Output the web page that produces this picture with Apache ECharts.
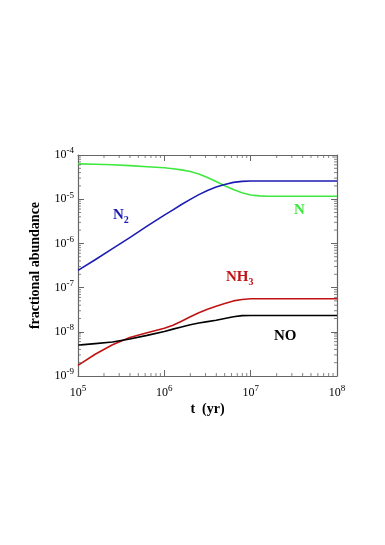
<!DOCTYPE html>
<html>
<head>
<meta charset="utf-8">
<script src="https://cdn.jsdelivr.net/npm/echarts@6/dist/echarts.min.js"></script>
<style>
  html, body { margin: 0; padding: 0; background: #fff; }
  #chart { width: 385px; height: 545px; }
</style>
</head>
<body>
<div id="chart"></div>
<script>
// time in years (log-spaced samples)
var time = [1e5, 1.58e5, 2.51e5, 3.98e5, 6.31e5, 1e6, 1.26e6, 1.58e6, 2.0e6, 2.51e6,
            3.16e6, 3.98e6, 5.01e6, 6.31e6, 7.94e6, 1e7, 1.26e7, 1.58e7, 3.16e7, 1e8];
// fractional abundances
var n2  = [2.45e-7, 4.27e-7, 7.6e-7, 1.35e-6, 2.45e-6, 4.37e-6, 5.75e-6, 7.59e-6, 9.89e-6, 1.27e-5,
           1.58e-5, 1.88e-5, 2.16e-5, 2.4e-5, 2.53e-5, 2.58e-5, 2.59e-5, 2.59e-5, 2.59e-5, 2.59e-5];
var n   = [6.3e-5, 6.17e-5, 6.03e-5, 5.75e-5, 5.43e-5, 5.13e-5, 4.9e-5, 4.6e-5, 4.22e-5, 3.72e-5,
           3.09e-5, 2.51e-5, 2.02e-5, 1.66e-5, 1.4e-5, 1.245e-5, 1.19e-5, 1.17e-5, 1.17e-5, 1.17e-5];
var nh3 = [1.74e-9, 3.1e-9, 5.1e-9, 7.4e-9, 9.5e-9, 1.2e-8, 1.41e-8, 1.74e-8, 2.19e-8, 2.69e-8,
           3.24e-8, 3.8e-8, 4.37e-8, 5.0e-8, 5.37e-8, 5.6e-8, 5.6e-8, 5.6e-8, 5.6e-8, 5.6e-8];
var no  = [5.0e-9, 5.4e-9, 5.9e-9, 6.9e-9, 8.3e-9, 1.02e-8, 1.15e-8, 1.29e-8, 1.45e-8, 1.58e-8,
           1.7e-8, 1.82e-8, 2.0e-8, 2.19e-8, 2.32e-8, 2.34e-8, 2.34e-8, 2.34e-8, 2.34e-8, 2.34e-8];

var xDecades = [5, 6, 7, 8];
var yDecades = [-9, -8, -7, -6, -5, -4];

var font = "'Liberation Serif', 'Times New Roman', serif";
var colors = { n2: "#1c1cb4", n: "#3ee83e", nh3: "#c01414", no: "#000000" };

function pairs(ys) {
  return time.map(function (t, i) { return [t, ys[i]]; });
}

// minor tick positions (2..9 times each decade)
function minors(decades) {
  var out = [];
  for (var d = 0; d < decades.length - 1; d++) {
    for (var k = 2; k <= 9; k++) out.push(k * Math.pow(10, decades[d]));
  }
  return out;
}
var xMinor = minors(xDecades);
var yMinor = minors(yDecades);
var xMin = 1e5, xMax = 1e8, yMin = 1e-9, yMax = 1e-4;

function powLabel(v) {
  var e = Math.round(Math.log10(v));
  return "10{s|" + e + "}";
}
var labelRich = {
  s: { fontSize: 9, fontFamily: font, color: "#000", padding: [0, 0, 8, 0] }
};

var axisLine = { show: true, lineStyle: { color: "#666", width: 1.2 } };
var tick = { show: true, inside: true, length: 6, lineStyle: { color: "#666" } };

var chart = echarts.init(document.getElementById("chart"));

// minor ticks drawn as tiny rect symbols sitting on the frame
function minorTicks(pts, size, offset) {
  return {
    type: "scatter",
    silent: true,
    clip: false,
    symbol: "rect",
    symbolSize: size,
    symbolOffset: offset,
    itemStyle: { color: "#666" },
    data: pts,
    z: 5
  };
}

function curve(name, ys, color) {
  return {
    name: name,
    type: "line",
    data: pairs(ys),
    smooth: false,
    showSymbol: false,
    lineStyle: { color: color, width: 1.6, join: "round" },
    z: 3
  };
}

function molLabel(main, sub, x, y, color) {
  return {
    type: "text",
    left: x,
    top: y,
    style: {
      text: main + (sub ? "{s|" + sub + "}" : ""),
      fill: color,
      font: "bold 15px " + font,
      rich: { s: { fontSize: 10, fontWeight: "bold", fontFamily: font, fill: color, padding: [10, 0, 0, 0] } }
    }
  };
}

chart.setOption({
  animation: false,
  grid: { left: 78, right: 48, top: 155, bottom: 169 },
  xAxis: [
    {
      type: "log", logBase: 10, min: xMin, max: xMax, splitNumber: 3,
      axisLine: axisLine, axisTick: tick, splitLine: { show: false },
      axisLabel: { formatter: powLabel, rich: labelRich, fontFamily: font, fontSize: 12, color: "#000", margin: 8 },
      name: "t  (yr)", nameLocation: "middle", nameGap: 26,
      nameTextStyle: { fontFamily: font, fontSize: 14, fontWeight: "bold", color: "#000" }
    },
    {
      type: "log", logBase: 10, min: xMin, max: xMax, splitNumber: 3, position: "top",
      axisLine: axisLine, axisTick: tick, axisLabel: { show: false }, splitLine: { show: false }
    }
  ],
  yAxis: [
    {
      type: "log", logBase: 10, min: yMin, max: yMax, splitNumber: 5,
      axisLine: axisLine, axisTick: tick, splitLine: { show: false },
      axisLabel: { formatter: powLabel, rich: labelRich, fontFamily: font, fontSize: 12, color: "#000", margin: 4 },
      name: "fractional abundance", nameLocation: "middle", nameGap: 36,
      nameTextStyle: { fontFamily: font, fontSize: 14, fontWeight: "bold", color: "#000" }
    },
    {
      type: "log", logBase: 10, min: yMin, max: yMax, splitNumber: 5, position: "right",
      axisLine: axisLine, axisTick: tick, axisLabel: { show: false }, splitLine: { show: false }
    }
  ],
  series: [
    curve("N", n, colors.n),
    curve("N2", n2, colors.n2),
    curve("NH3", nh3, colors.nh3),
    curve("NO", no, colors.no),
    minorTicks(xMinor.map(function (v) { return [v, yMin]; }), [1, 3], [0, -1.5]),
    minorTicks(xMinor.map(function (v) { return [v, yMax]; }), [1, 3], [0, 1.5]),
    minorTicks(yMinor.map(function (v) { return [xMin, v]; }), [3, 1], [1.5, 0]),
    minorTicks(yMinor.map(function (v) { return [xMax, v]; }), [3, 1], [-1.5, 0])
  ],
  graphic: [
    molLabel("N", "2", 113, 208, colors.n2),
    molLabel("N", "", 294, 203, colors.n),
    molLabel("NH", "3", 226, 270, colors.nh3),
    molLabel("NO", "", 274, 329, colors.no)
  ]
});
</script>
</body>
</html>
